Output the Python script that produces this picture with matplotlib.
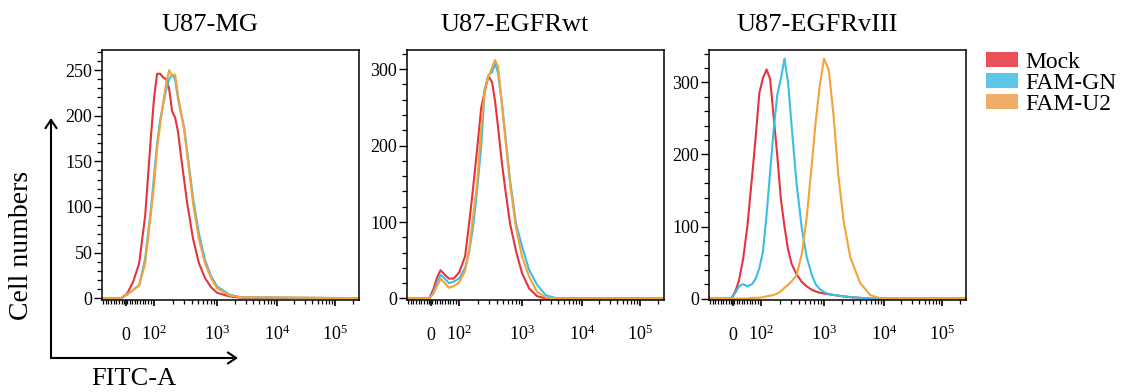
import matplotlib
matplotlib.use("Agg")
import matplotlib.pyplot as plt
import numpy as np
from matplotlib.patches import Patch, FancyArrowPatch
from matplotlib.ticker import MultipleLocator, FixedLocator

plt.rcParams['font.family'] = ['Liberation Serif', 'DejaVu Serif']
plt.rcParams['mathtext.fontset'] = 'custom'
plt.rcParams['mathtext.rm'] = 'Liberation Serif'
plt.rcParams['mathtext.it'] = 'Liberation Serif:italic'

titles = ["U87-MG", "U87-EGFRwt", "U87-EGFRvIII"]
series = ["Mock", "FAM-GN", "FAM-U2"]
line_colors = ["#e5333f", "#3bbde6", "#f4a23a"]
legend_colors = ["#e9505a", "#5cc6e8", "#f0ad68"]

# FITC-A channel, in display decades of the biexponential axis
tick_pos = [1.48, 1.95, 3.0, 4.0, 4.97]
tick_labels = ["0", "$10^2$", "$10^3$", "$10^4$", "$10^5$"]

# U87-MG
x_mg = [1.08, 1.40, 1.50, 1.60, 1.70, 1.80, 1.90, 1.95, 2.00, 2.05, 2.10, 2.15, 2.20,
        2.25, 2.30, 2.35, 2.40, 2.45, 2.50, 2.60, 2.70, 2.80, 2.90, 3.00, 3.20, 3.40, 5.37]
mock_mg = [0, 0, 5, 18, 38, 90, 180, 220, 246, 246, 242, 240, 230,
           205, 198, 182, 155, 130, 105, 65, 38, 22, 12, 6, 2, 0.5, 0]
gn_mg = [0, 0, 4, 9, 14, 43, 100, 135, 170, 195, 212, 228, 240,
         245, 240, 218, 202, 188, 162, 110, 70, 42, 24, 13, 4, 1, 0]
u2_mg = [0, 0, 4, 9, 14, 38, 95, 125, 165, 190, 214, 235, 250,
         244, 245, 222, 203, 185, 158, 104, 64, 38, 22, 11, 3, 1, 0]

# U87-EGFRwt
x_wt = [1.08, 1.45, 1.52, 1.58, 1.64, 1.70, 1.78, 1.86, 1.95, 2.05, 2.12, 2.18, 2.25, 2.32,
        2.38, 2.44, 2.50, 2.55, 2.60, 2.66, 2.72, 2.80, 2.90, 3.00, 3.12, 3.25, 3.40, 3.60, 5.37]
mock_wt = [0, 0, 12, 27, 37, 32, 26, 26, 34, 55, 100, 142, 195, 250,
           272, 291, 283, 258, 224, 180, 143, 98, 62, 33, 13, 3, 0, 0, 0]
gn_wt = [0, 0, 8, 20, 31, 27, 20, 22, 26, 40, 62, 92, 141, 200,
         275, 292, 296, 307, 295, 258, 215, 155, 98, 68, 37, 18, 4, 0, 0]
u2_wt = [0, 0, 6, 16, 26, 21, 14, 16, 21, 36, 65, 105, 150, 225,
         275, 290, 302, 312, 303, 258, 210, 150, 92, 55, 28, 9, 1, 0, 0]

# U87-EGFRvIII
x_v3 = [1.08, 1.45, 1.52, 1.58, 1.65, 1.72, 1.80, 1.86, 1.92, 1.98, 2.04, 2.10, 2.16, 2.22,
        2.28, 2.34, 2.40, 2.46, 2.54, 2.63, 2.71, 2.80, 2.86, 2.93, 3.00, 3.08, 3.16, 3.24,
        3.33, 3.44, 3.60, 3.77, 3.95, 5.37]
mock_v3 = [0, 0, 10, 25, 55, 100, 170, 225, 285, 306, 318, 305, 252, 198,
           138, 100, 68, 48, 34, 23, 17, 12, 10, 8, 7, 6, 5, 4,
           3, 2, 1, 0, 0, 0]
gn_v3 = [0, 0, 8, 17, 20, 17, 20, 28, 42, 65, 115, 175, 235, 283,
         305, 333, 300, 239, 161, 97, 58, 32, 20, 13, 9, 6, 5, 4,
         3, 2, 1, 0, 0, 0]
u2_v3 = [0, 0, 0, 0, 0, 0, 1, 1, 1, 2, 3, 4, 5, 7,
         10, 15, 19, 24, 32, 62, 112, 190, 245, 296, 333, 317, 253, 170,
         106, 57, 22, 5, 0, 0]

panels = [
    (x_mg, [mock_mg, gn_mg, u2_mg], 272, 50, 10),
    (x_wt, [mock_wt, gn_wt, u2_wt], 325, 100, 20),
    (x_v3, [mock_v3, gn_v3, u2_v3], 345, 100, 20),
]

W, H = 1124, 392
fig = plt.figure(figsize=(W / 100, H / 100), dpi=100)
lefts = [102, 407, 709]

# minor ticks: dense linear part near zero, log steps per decade above 10^2
minor = list(np.arange(1.10, 1.93, 0.044))
bounds = [(1.95, 3.0), (3.0, 4.0), (4.0, 4.97), (4.97, 5.94)]
for a, b in bounds:
    for k in range(2, 10):
        p = a + np.log10(k) * (b - a)
        if p < 5.37:
            minor.append(p)

for i, (x, ys, ytop, major, minr) in enumerate(panels):
    ax = fig.add_axes([lefts[i] / W, (H - 300) / H, 257 / W, 250 / H])
    for y, c in zip(ys, line_colors):
        ax.plot(x, y, color=c, lw=1.5)
    ax.set_xlim(1.08, 5.37)
    ax.set_ylim(-2, ytop)
    ax.yaxis.set_major_locator(MultipleLocator(major))
    ax.yaxis.set_minor_locator(MultipleLocator(minr))
    ax.set_xticks(tick_pos)
    ax.set_xticklabels(tick_labels)
    ax.xaxis.set_minor_locator(FixedLocator(minor))
    ax.tick_params(axis='y', which='major', direction='out', length=6, width=1,
                   pad=1, labelsize=13)
    ax.tick_params(axis='y', which='minor', direction='out', length=3.5, width=0.9)
    ax.tick_params(axis='x', which='major', direction='out', length=4.5, width=1.2,
                   pad=24, labelsize=13)
    ax.tick_params(axis='x', which='minor', direction='out', length=3, width=0.9)
    for lab in ax.get_xticklabels():
        lab.set_va('baseline')
    for s in ax.spines.values():
        s.set_linewidth(1.1)
    ax.text(0.42, 1.10, titles[i], transform=ax.transAxes, ha='center', va='center',
            fontsize=19)

handles = [Patch(facecolor=c, edgecolor='none') for c in legend_colors]
fig.legend(handles, series, loc='upper left', bbox_to_anchor=(986 / W, 1 - 52 / H),
           frameon=False, fontsize=17, handlelength=1.35, handleheight=0.6,
           handletextpad=0.3, labelspacing=0.0, borderpad=0, borderaxespad=0)

# axis arrows
for end in [(51, 118), (238, 358)]:
    fig.add_artist(FancyArrowPatch(
        (51 / W, 1 - 358 / H), (end[0] / W, 1 - end[1] / H), transform=fig.transFigure,
        arrowstyle='->, head_length=6, head_width=4', lw=1.5, color='black',
        shrinkA=0, shrinkB=0))
fig.text(22 / W, 1 - 245 / H, "Cell numbers", rotation=90, ha='center', va='center',
         fontsize=20)
fig.text(134 / W, 1 - 379 / H, "FITC-A", ha='center', va='center', fontsize=19)

fig.savefig("out.png", dpi=100)
